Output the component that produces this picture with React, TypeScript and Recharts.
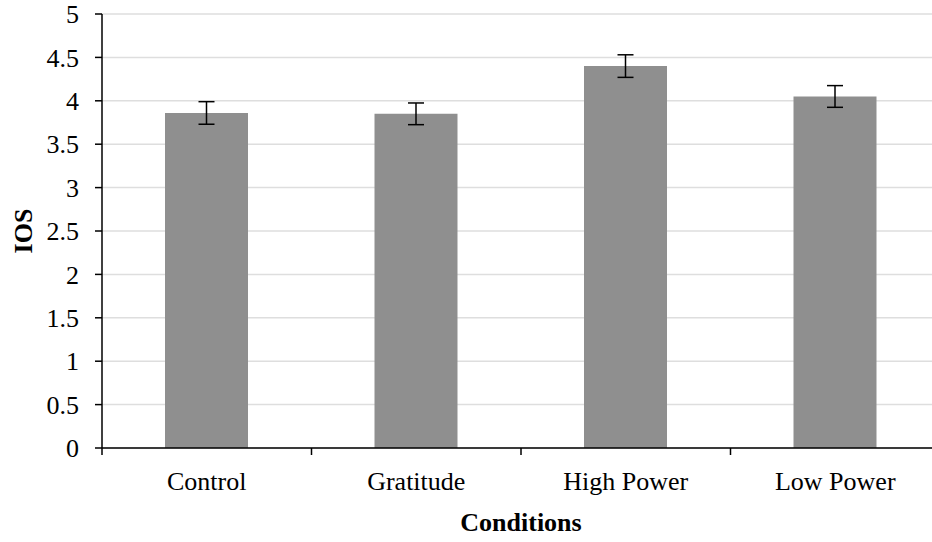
import { BarChart, Bar, XAxis, YAxis, CartesianGrid, ErrorBar, Label } from 'recharts';

const conditions = ['Control', 'Gratitude', 'High Power', 'Low Power'];
const iosMeans = [3.86, 3.85, 4.4, 4.05];
const iosErrors = [0.13, 0.125, 0.13, 0.125];
const yTicks = [0, 0.5, 1, 1.5, 2, 2.5, 3, 3.5, 4, 4.5, 5];

const FONT = '"Liberation Serif", "Times New Roman", serif';

const data = conditions.map((name, i) => ({
  name,
  ios: iosMeans[i],
  err: iosErrors[i],
}));

// category tick: label at the band centre, tick mark on the band boundaries
function CategoryTick(props: any) {
  const { x, y, payload, index, width } = props;
  const band = width / conditions.length;
  const left = x - band / 2;
  const top = y - 24;
  return (
    <g>
      <line x1={left} y1={top} x2={left} y2={top + 7} stroke="#000" strokeWidth={1.5} />
      {index === conditions.length - 1 && (
        <line x1={left + band} y1={top} x2={left + band} y2={top + 7} stroke="#000" strokeWidth={1.5} />
      )}
      <text x={x} y={y} dy="0.71em" textAnchor="middle" fontFamily={FONT} fontSize={26} fill="#000">
        {payload.value}
      </text>
    </g>
  );
}

function YTitle(props: any) {
  const vb = props.viewBox || {};
  const cx = 23;
  const cy = vb.y + vb.height / 2;
  return (
    <text
      x={cx}
      y={cy}
      transform={`rotate(-90, ${cx}, ${cy})`}
      textAnchor="middle"
      dominantBaseline="central"
      fontFamily={FONT}
      fontSize={26}
      fontWeight="bold"
      fill="#000"
    >
      IOS
    </text>
  );
}

export default function App() {
  return (
    <div style={{ position: 'fixed', left: 0, top: 0, width: 932, height: 542, overflow: 'hidden', background: '#fff' }}>
      <BarChart
        width={940}
        height={542}
        data={data}
        margin={{ top: 14, right: 0, bottom: 0, left: 0 }}
        barSize={83}
      >
        <CartesianGrid vertical={false} stroke="#dedede" strokeWidth={1.5} />
        <XAxis
          dataKey="name"
          height={94}
          axisLine={{ stroke: '#000', strokeWidth: 1.5 }}
          tickLine={false}
          tickSize={7}
          tickMargin={17}
          interval={0}
          tick={<CategoryTick />}
        >
          <Label
            value="Conditions"
            position="insideBottom"
            offset={11}
            style={{ fill: '#000', fontSize: 26, fontFamily: FONT, fontWeight: 'bold' }}
          />
        </XAxis>
        <YAxis
          width={102}
          domain={[0, 5]}
          ticks={yTicks}
          interval={0}
          axisLine={{ stroke: '#000', strokeWidth: 1.5 }}
          tickLine={{ stroke: '#000', strokeWidth: 1.5 }}
          tickSize={7}
          tickMargin={16}
          tick={{ fill: '#000', fontSize: 26, fontFamily: FONT }}
        >
          <Label content={<YTitle />} />
        </YAxis>
        <Bar dataKey="ios" fill="#8f8f8f" isAnimationActive={false}>
          <ErrorBar dataKey="err" width={8} stroke="#000" strokeWidth={1.5} isAnimationActive={false} />
        </Bar>
      </BarChart>
    </div>
  );
}
